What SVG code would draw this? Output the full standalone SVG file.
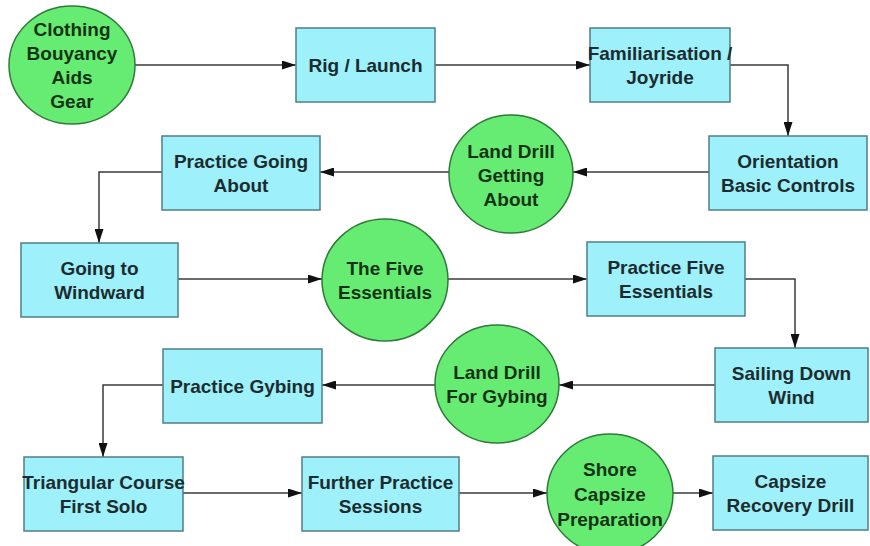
<svg xmlns="http://www.w3.org/2000/svg" width="870" height="546" viewBox="0 0 870 546">
<defs>
<style>
.box{fill:#9ef0fa;stroke:#4f7f86;stroke-width:1.5}
.circ{fill:#66ec72;stroke:#2f7a3a;stroke-width:1.5}
text{font-family:"Liberation Sans",Arial,Helvetica,sans-serif;font-weight:bold;font-size:19px;text-anchor:middle;fill:#1c2c2e}
.c text{fill:#173317}
.conn path{fill:none;stroke:#3a3a3a;stroke-width:1.5;marker-end:url(#ah)}
</style>
<marker id="ah" markerUnits="userSpaceOnUse" markerWidth="15" markerHeight="9" refX="14" refY="4.5" orient="auto">
<path d="M0,0 L14,4.5 L0,9 z" fill="#111"/>
</marker>
</defs>
<rect width="870" height="546" fill="#ffffff"/>
<g id="connectors" class="conn">
<path d="M135,65 H296"/>
<path d="M435,65 H590"/>
<path d="M730,65 H788 V136"/>
<path d="M709,172 H573"/>
<path d="M449,172 H320"/>
<path d="M162,172 H99 V243"/>
<path d="M178,279 H322"/>
<path d="M448,279 H587"/>
<path d="M745,279 H795 V348"/>
<path d="M715,385 H559"/>
<path d="M435,385 H322"/>
<path d="M163,385 H103 V457"/>
<path d="M183,493 H302"/>
<path d="M459,493 H547"/>
<path d="M673,493 H713"/>
</g>
<g id="n1" class="c"><ellipse class="circ" cx="72" cy="65" rx="63" ry="59"/><text x="72" y="36">Clothing</text><text x="72" y="60">Bouyancy</text><text x="72" y="84">Aids</text><text x="72" y="108">Gear</text></g>
<g id="n2"><rect class="box" x="296" y="28" width="139" height="74"/><text x="365.5" y="72">Rig / Launch</text></g>
<g id="n3"><rect class="box" x="590" y="28" width="140" height="74"/><text x="660" y="60">Familiarisation /</text><text x="660" y="84">Joyride</text></g>
<g id="n4"><rect class="box" x="709" y="136" width="158" height="74"/><text x="788" y="168">Orientation</text><text x="788" y="192">Basic Controls</text></g>
<g id="n5" class="c"><ellipse class="circ" cx="511" cy="174" rx="62" ry="59"/><text x="511" y="158">Land Drill</text><text x="511" y="182">Getting</text><text x="511" y="206">About</text></g>
<g id="n6"><rect class="box" x="162" y="136" width="158" height="74"/><text x="241" y="168">Practice Going</text><text x="241" y="192">About</text></g>
<g id="n7"><rect class="box" x="21" y="243" width="157" height="74"/><text x="99.5" y="275">Going to</text><text x="99.5" y="299">Windward</text></g>
<g id="n8" class="c"><ellipse class="circ" cx="385" cy="280" rx="63" ry="61"/><text x="385" y="275">The Five</text><text x="385" y="299">Essentials</text></g>
<g id="n9"><rect class="box" x="587" y="242" width="158" height="74"/><text x="666" y="274">Practice Five</text><text x="666" y="298">Essentials</text></g>
<g id="n10"><rect class="box" x="715" y="348" width="153" height="74"/><text x="791.5" y="380">Sailing Down</text><text x="791.5" y="404">Wind</text></g>
<g id="n11" class="c"><ellipse class="circ" cx="497" cy="384" rx="62" ry="59"/><text x="497" y="379">Land Drill</text><text x="497" y="403">For Gybing</text></g>
<g id="n12"><rect class="box" x="163" y="349" width="159" height="74"/><text x="242.5" y="393">Practice Gybing</text></g>
<g id="n13"><rect class="box" x="24" y="457" width="159" height="74"/><text x="103.5" y="489">Triangular Course</text><text x="103.5" y="513">First Solo</text></g>
<g id="n14"><rect class="box" x="302" y="457" width="157" height="74"/><text x="380.5" y="489">Further Practice</text><text x="380.5" y="513">Sessions</text></g>
<g id="n15" class="c"><ellipse class="circ" cx="610" cy="494" rx="63" ry="60"/><text x="610" y="476">Shore</text><text x="610" y="501">Capsize</text><text x="610" y="526">Preparation</text></g>
<g id="n16"><rect class="box" x="713" y="456" width="155" height="74"/><text x="790.5" y="488">Capsize</text><text x="790.5" y="512">Recovery Drill</text></g>
</svg>
